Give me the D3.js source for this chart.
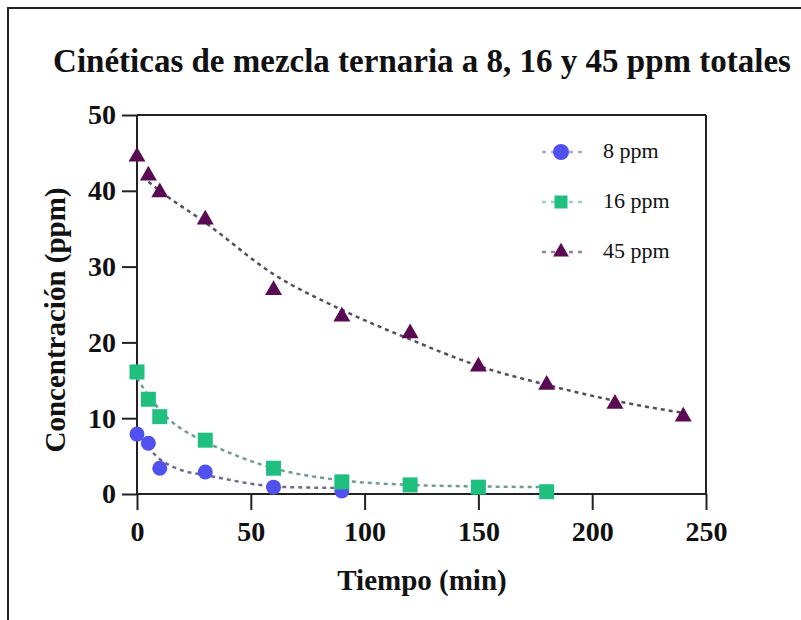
<!DOCTYPE html>
<html>
<head>
<meta charset="utf-8">
<script src="https://cdn.jsdelivr.net/npm/d3@7"></script>
<style>
  html, body { margin: 0; padding: 0; background: #fff; }
  svg { display: block; }
  text { font-family: "Liberation Serif", "DejaVu Serif", serif; fill: #111; }
</style>
</head>
<body>
<svg id="chart" width="801" height="620"></svg>
<script>
// Measured concentrations (ppm) vs time (min)
const times8 = [0, 5, 10, 30, 60, 90];
const conc8 = [7.9, 6.7, 3.4, 2.9, 0.9, 0.4];

const times16 = [0, 5, 10, 30, 60, 90, 120, 150, 180];
const conc16 = [16.1, 12.5, 10.2, 7.1, 3.4, 1.6, 1.2, 0.9, 0.3];

const times45 = [0, 5, 10, 30, 60, 90, 120, 150, 180, 210, 240];
const conc45 = [44.5, 42.0, 39.8, 36.2, 26.9, 23.4, 21.2, 16.8, 14.4, 11.9, 10.2];

// Fitted decay curves
const fitTimes8 = [0, 5, 10, 15, 20, 30, 40, 50, 60, 75, 90];
const fit8 = [7.8, 6.1, 4.6, 3.7, 3.1, 2.5, 1.9, 1.35, 1.0, 0.85, 0.8];

const fitTimes16 = [0, 5, 10, 15, 20, 30, 45, 60, 90, 120, 150, 180];
const fit16 = [15.3, 13.0, 11.1, 9.6, 8.5, 6.9, 4.9, 3.4, 1.8, 1.2, 1.0, 0.9];

const fitTimes45 = [5, 10, 30, 60, 90, 120, 150, 180, 210, 240];
const fit45 = [41.2, 40.0, 35.8, 29.0, 24.3, 20.4, 16.9, 14.4, 12.3, 10.7];

const seriesNames = ["8 ppm", "16 ppm", "45 ppm"];
const xTicks = [0, 50, 100, 150, 200, 250];
const yTicks = [0, 10, 20, 30, 40, 50];

const titleText = "Cinéticas de mezcla ternaria a 8, 16 y 45 ppm totales";
const xTitle = "Tiempo (min)";
const yTitle = "Concentración (ppm)";

// Styling
const serif = "'Liberation Serif', 'DejaVu Serif', serif";
const markerFill = ["#5151ee", "#1fbf80", "#5a0a52"];
const fitStroke = ["#6b6b92", "#6f9d8d", "#544e5e"];
const legendStroke = ["#a4aade", "#92d8bb", "#9a8096"];
const symbols = [d3.symbolCircle, d3.symbolSquare, d3.symbolTriangle];
const symbolSizes = [Math.PI * 7.5 * 7.5, 15 * 15, 125];
const legendSizes = [Math.PI * 8 * 8, 13 * 13, 110];

const svg = d3.select("#chart");

// Outer frame (top and left edges)
svg.append("line").attr("x1", 7).attr("x2", 801).attr("y1", 8).attr("y2", 8)
  .attr("stroke", "#222").attr("stroke-width", 2);
svg.append("line").attr("x1", 8).attr("x2", 8).attr("y1", 7).attr("y2", 620)
  .attr("stroke", "#222").attr("stroke-width", 2);

const plot = { left: 137, right: 706, top: 115, bottom: 494 };

const x = d3.scaleLinear().domain([0, 250]).range([plot.left, plot.right]);
const y = d3.scaleLinear().domain([0, 50]).range([plot.bottom, plot.top]);

// Title
svg.append("text")
  .attr("x", 422).attr("y", 72)
  .attr("text-anchor", "middle")
  .attr("font-family", serif)
  .attr("font-size", 33).attr("font-weight", "bold")
  .text(titleText);

// Plot box top and right edges
svg.append("line").attr("x1", plot.left).attr("x2", plot.right).attr("y1", plot.top).attr("y2", plot.top)
  .attr("stroke", "#222").attr("stroke-width", 2);
svg.append("line").attr("x1", plot.right).attr("x2", plot.right).attr("y1", plot.top).attr("y2", plot.bottom)
  .attr("stroke", "#222").attr("stroke-width", 2);

// Axes
const xAxis = d3.axisBottom(x).tickValues(xTicks).tickSize(16).tickPadding(11).tickFormat(d3.format("d"));
const yAxis = d3.axisLeft(y).tickValues(yTicks).tickSize(15).tickPadding(6).tickFormat(d3.format("d"));

const gx = svg.append("g").attr("transform", `translate(0,${plot.bottom})`).call(xAxis);
const gy = svg.append("g").attr("transform", `translate(${plot.left},0)`).call(yAxis);

[gx, gy].forEach(g => {
  g.attr("font-family", serif);
  g.select(".domain").attr("stroke", "#222").attr("stroke-width", 2);
  g.selectAll(".tick line").attr("stroke", "#222").attr("stroke-width", 2);
  g.selectAll(".tick text")
    .attr("font-family", serif)
    .attr("font-size", 28).attr("font-weight", "bold").attr("fill", "#111");
});
gx.select(".domain").attr("d", `M${plot.left},0H${plot.right}`);
gy.select(".domain").attr("d", `M0,${plot.bottom}V${plot.top}`);

// Axis titles
svg.append("text")
  .attr("x", 422).attr("y", 590)
  .attr("text-anchor", "middle")
  .attr("font-family", serif)
  .attr("font-size", 29).attr("font-weight", "bold")
  .text(xTitle);

svg.append("text")
  .attr("transform", "translate(65,320) rotate(-90)")
  .attr("text-anchor", "middle")
  .attr("font-family", serif)
  .attr("font-size", 29).attr("font-weight", "bold")
  .text(yTitle);

// Fitted curves
const line = d3.line().x(d => x(d[0])).y(d => y(d[1])).curve(d3.curveMonotoneX);
const fits = [
  d3.zip(fitTimes8, fit8),
  d3.zip(fitTimes16, fit16),
  d3.zip(fitTimes45, fit45)
];
fits.forEach((pts, i) => {
  svg.append("path")
    .attr("d", line(pts))
    .attr("fill", "none")
    .attr("stroke", fitStroke[i])
    .attr("stroke-width", 2.5)
    .attr("stroke-dasharray", "4,4");
});

// Data markers
const data = [
  d3.zip(times8, conc8),
  d3.zip(times16, conc16),
  d3.zip(times45, conc45)
];
data.forEach((pts, i) => {
  svg.append("g").selectAll("path")
    .data(pts)
    .join("path")
    .attr("transform", d => `translate(${x(d[0])},${y(d[1])})`)
    .attr("d", d3.symbol().type(symbols[i]).size(symbolSizes[i]))
    .attr("fill", markerFill[i]);
});

// Legend
const legend = svg.append("g");
const legendY = [152, 202, 252];
seriesNames.forEach((name, i) => {
  const ly = legendY[i];
  legend.append("line")
    .attr("x1", 542).attr("x2", 582).attr("y1", ly).attr("y2", ly)
    .attr("stroke", legendStroke[i]).attr("stroke-width", 2.5)
    .attr("stroke-dasharray", "4,5");
  legend.append("path")
    .attr("transform", `translate(561,${ly})`)
    .attr("d", d3.symbol().type(symbols[i]).size(legendSizes[i]))
    .attr("fill", markerFill[i]);
  legend.append("text")
    .attr("x", 603).attr("y", ly + 6)
    .attr("font-family", serif)
    .attr("font-weight", "normal")
    .attr("font-size", 22)
    .text(name);
});
</script>
</body>
</html>
